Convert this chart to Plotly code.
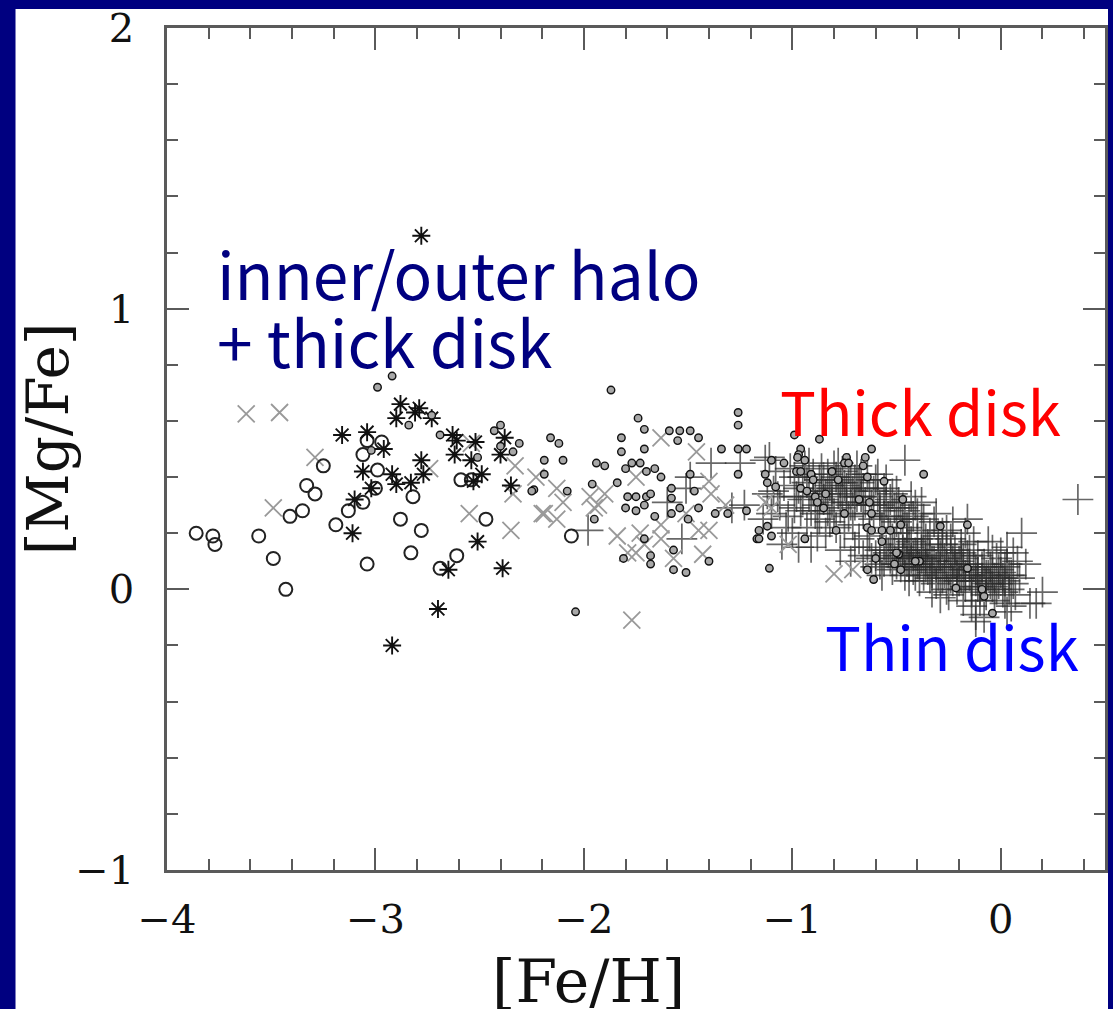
import plotly.graph_objects as go

# ---- [Fe/H], [Mg/Fe] measurements per sample -------------------------------
# halo stars, large open circles
halo_circles = [
    (-3.86, 0.20), (-3.78, 0.19), (-3.77, 0.16), (-3.56, 0.19), (-3.49, 0.11),
    (-3.43, 0.00), (-3.41, 0.26), (-3.35, 0.28), (-3.33, 0.37), (-3.29, 0.34),
    (-3.25, 0.44), (-3.19, 0.23), (-3.13, 0.28), (-3.06, 0.31), (-3.06, 0.48),
    (-3.04, 0.53), (-2.97, 0.525), (-2.99, 0.425), (-3.00, 0.36), (-3.04, 0.09),
    (-2.88, 0.25), (-2.83, 0.13), (-2.82, 0.33), (-2.78, 0.21), (-2.69, 0.075),
    (-2.61, 0.12), (-2.59, 0.39), (-2.47, 0.25), (-2.54, 0.39), (-2.06, 0.19),
]

# halo stars, asterisks
halo_asterisks = [
    (-3.16, 0.55), (-3.04, 0.56), (-3.06, 0.42), (-3.11, 0.20), (-3.10, 0.32),
    (-3.02, 0.36), (-2.96, 0.50), (-2.90, 0.61), (-2.88, 0.66), (-2.81, 0.63),
    (-2.79, 0.645), (-2.73, 0.61), (-2.92, 0.41), (-2.90, 0.375), (-2.83, 0.38),
    (-2.78, 0.46), (-2.77, 0.41), (-2.63, 0.55), (-2.61, 0.53), (-2.62, 0.48),
    (-2.54, 0.46), (-2.52, 0.525), (-2.53, 0.385), (-2.49, 0.41), (-2.51, 0.17),
    (-2.65, 0.07), (-2.70, -0.07), (-2.92, -0.20), (-2.39, 0.075), (-2.38, 0.54),
    (-2.40, 0.48), (-2.35, 0.37), (-2.78, 1.26),
]

# halo / thick disk, grey crosses
grey_crosses = [
    (-3.62, 0.625), (-3.46, 0.63), (-3.29, 0.47), (-3.49, 0.29), (-2.55, 0.27),
    (-2.35, 0.21), (-2.74, 0.43), (-2.33, 0.44), (-2.23, 0.40), (-2.34, 0.34),
    (-2.54, 0.52), (-2.20, 0.27), (-2.19, 0.27), (-2.13, 0.36), (-2.10, 0.31),
    (-2.13, 0.25), (-1.97, 0.33), (-1.93, 0.30), (-1.90, 0.34), (-1.95, 0.29),
    (-1.84, 0.19), (-1.75, 0.40), (-1.73, 0.20), (-1.75, 0.13), (-1.79, 0.13),
    (-1.71, 0.16), (-1.63, 0.54), (-1.46, 0.49), (-1.63, 0.23), (-1.63, 0.18),
    (-1.57, 0.11), (-1.51, 0.27), (-1.45, 0.21), (-1.40, 0.21), (-1.43, 0.125),
    (-1.40, 0.385), (-1.39, 0.34), (-1.32, 0.30), (-1.10, 0.29), (-1.77, -0.11),
    (-0.80, 0.055), (-0.71, 0.07), (-1.13, 0.31), (-1.02, 0.16),
]

# small dotted circles
small_circles = [
    (-2.92, 0.76), (-2.99, 0.72), (-2.73, 0.62), (-2.84, 0.585), (-2.69, 0.55),
    (-2.43, 0.565), (-2.40, 0.585), (-2.31, 0.52), (-2.40, 0.51), (-2.34, 0.49),
    (-2.24, 0.355), (-3.02, 0.495), (-2.51, 0.47),
    (-1.87, 0.71), (-1.74, 0.61), (-1.71, 0.57), (-2.16, 0.54), (-2.12, 0.52),
    (-2.19, 0.46), (-2.10, 0.46), (-2.19, 0.41), (-2.25, 0.35), (-2.08, 0.35),
    (-1.82, 0.54), (-1.82, 0.49), (-1.94, 0.45), (-1.90, 0.44), (-1.96, 0.375),
    (-1.84, 0.38), (-1.95, 0.25), (-1.71, 0.50), (-1.59, 0.565), (-1.54, 0.565),
    (-1.49, 0.565), (-1.45, 0.54), (-1.55, 0.53), (-1.80, 0.43), (-1.77, 0.45),
    (-1.73, 0.45), (-1.70, 0.42), (-1.66, 0.43), (-1.63, 0.40), (-1.79, 0.33),
    (-1.75, 0.33), (-1.70, 0.33), (-1.68, 0.34), (-1.80, 0.29), (-1.75, 0.28),
    (-1.71, 0.30), (-1.66, 0.26), (-1.58, 0.36), (-1.58, 0.325), (-1.58, 0.27),
    (-1.54, 0.29), (-1.50, 0.25), (-1.45, 0.29), (-1.49, 0.41), (-1.47, 0.35),
    (-1.71, 0.18), (-1.81, 0.11), (-1.68, 0.12), (-1.68, 0.09), (-1.57, 0.14),
    (-1.57, 0.07), (-1.51, 0.06), (-1.40, 0.10), (-1.34, 0.50), (-1.26, 0.63),
    (-1.26, 0.585), (-1.26, 0.50), (-1.22, 0.50), (-1.26, 0.41), (-1.37, 0.27),
    (-1.31, 0.27), (-1.22, 0.28), (-1.10, 0.46), (-1.13, 0.41), (-1.12, 0.38),
    (-1.12, 0.225), (-1.17, 0.18), (-1.10, 0.19), (-1.11, 0.075), (-2.04, -0.08),
    (-0.87, 0.535), (-0.99, 0.55), (-0.96, 0.50), (-0.97, 0.48), (-0.975, 0.47),
    (-0.94, 0.46), (-1.04, 0.45), (-0.98, 0.42), (-0.96, 0.42), (-0.91, 0.41),
    (-0.90, 0.39), (-0.74, 0.47), (-0.75, 0.45), (-0.73, 0.45), (-0.65, 0.47),
    (-0.62, 0.50), (-0.66, 0.44), (-0.64, 0.40), (-0.78, 0.39), (-0.81, 0.42),
    (-0.56, 0.385), (-0.37, 0.41), (-1.08, 0.365), (-0.96, 0.36), (-0.93, 0.35),
    (-0.89, 0.33), (-0.84, 0.34), (-0.88, 0.31), (-0.85, 0.29), (-0.75, 0.27),
    (-0.68, 0.32), (-0.63, 0.31), (-0.62, 0.27), (-0.47, 0.32), (-0.48, 0.23),
    (-0.64, 0.22), (-0.62, 0.21), (-0.57, 0.21), (-0.53, 0.21), (-0.57, 0.17),
    (-0.79, 0.21), (-0.94, 0.18), (-1.16, 0.21), (-1.16, 0.18), (-0.60, 0.11),
    (-0.51, 0.09), (-0.49, 0.125), (-0.39, 0.10), (-0.64, 0.07), (-0.61, 0.035),
    (-0.29, 0.225), (-0.16, 0.23), (-0.50, 0.13), (-0.48, 0.07), (-0.41, 0.10),
    (-0.16, 0.075), (-0.215, 0.005), (-0.09, 0.00), (-0.08, -0.025), (-0.04, -0.085),
]

# disk stars, plus signs
disk_plus = [
    (-1.98, 0.21), (-1.39, 0.45), (-1.49, 0.40), (-1.51, 0.36), (-1.60, 0.31),
    (-1.53, 0.18), (-1.25, 0.45), (-1.23, 0.30), (-1.29, 0.29), (-1.13, 0.46),
    (-1.12, 0.34), (-1.14, 0.25), (-1.09, 0.35), (-1.11, 0.47),
    (-1.08, 0.42), (-1.06, 0.30), (-1.04, 0.37), (-1.02, 0.26), (-1.00, 0.20),
    (-0.98, 0.33), (-1.05, 0.16), (-0.97, 0.15), (-1.03, 0.22), (-0.99, 0.40),
    (-0.96, 0.28), (-1.10, 0.27),
    (-0.94, 0.44), (-0.93, 0.38), (-0.92, 0.33), (-0.91, 0.28), (-0.90, 0.41),
    (-0.89, 0.36), (-0.88, 0.30), (-0.87, 0.25), (-0.86, 0.43), (-0.85, 0.39),
    (-0.84, 0.34), (-0.83, 0.28), (-0.82, 0.37), (-0.81, 0.31), (-0.80, 0.44),
    (-0.93, 0.22), (-0.88, 0.19), (-0.84, 0.20), (-0.91, 0.15), (-0.86, 0.35),
    (-0.82, 0.24),
    (-0.79, 0.40), (-0.78, 0.34), (-0.77, 0.29), (-0.76, 0.42), (-0.75, 0.37),
    (-0.74, 0.31), (-0.73, 0.26), (-0.72, 0.40), (-0.71, 0.35), (-0.70, 0.30),
    (-0.69, 0.44), (-0.68, 0.38), (-0.67, 0.33), (-0.66, 0.27), (-0.79, 0.22),
    (-0.75, 0.20), (-0.71, 0.23), (-0.68, 0.18), (-0.77, 0.14), (-0.72, 0.10),
    (-0.66, 0.12), (-0.70, 0.15),
    (-0.64, 0.41), (-0.63, 0.36), (-0.62, 0.30), (-0.61, 0.25), (-0.60, 0.39),
    (-0.59, 0.33), (-0.58, 0.28), (-0.57, 0.22), (-0.56, 0.36), (-0.55, 0.31),
    (-0.54, 0.26), (-0.53, 0.20), (-0.52, 0.34), (-0.51, 0.29), (-0.64, 0.15),
    (-0.62, 0.11), (-0.60, 0.08), (-0.58, 0.14), (-0.56, 0.10), (-0.54, 0.13),
    (-0.52, 0.07), (-0.51, 0.16), (-0.63, 0.19), (-0.57, 0.05),
    (-0.49, 0.31), (-0.48, 0.25), (-0.47, 0.20), (-0.46, 0.28), (-0.45, 0.22),
    (-0.44, 0.15), (-0.43, 0.11), (-0.42, 0.07), (-0.41, 0.13), (-0.40, 0.18),
    (-0.39, 0.09), (-0.38, 0.14), (-0.37, 0.05), (-0.36, 0.11), (-0.49, 0.12),
    (-0.48, 0.08), (-0.47, 0.14), (-0.46, 0.05), (-0.45, 0.10), (-0.44, 0.03),
    (-0.43, 0.17), (-0.42, 0.26), (-0.40, 0.12), (-0.39, 0.03), (-0.38, 0.21),
    (-0.36, 0.08), (-0.35, 0.16), (-0.41, 0.30), (-0.37, 0.25),
    (-0.34, 0.12), (-0.33, 0.06), (-0.32, 0.10), (-0.31, 0.02), (-0.30, 0.14),
    (-0.29, 0.08), (-0.28, 0.04), (-0.27, 0.11), (-0.26, 0.00), (-0.25, 0.07),
    (-0.24, 0.13), (-0.23, 0.03), (-0.22, 0.09), (-0.21, 0.05), (-0.34, 0.20),
    (-0.32, 0.24), (-0.30, 0.19), (-0.28, 0.16), (-0.26, 0.21), (-0.24, 0.18),
    (-0.22, 0.14), (-0.33, -0.01), (-0.29, -0.03), (-0.25, -0.02), (-0.21, 0.00),
    (-0.31, 0.27), (-0.23, 0.24),
    (-0.20, 0.10), (-0.19, 0.04), (-0.18, 0.07), (-0.17, 0.01), (-0.16, 0.12),
    (-0.15, 0.05), (-0.14, -0.01), (-0.13, 0.08), (-0.12, 0.03), (-0.11, 0.06),
    (-0.10, 0.00), (-0.09, 0.04), (-0.08, 0.09), (-0.07, 0.02), (-0.06, 0.05),
    (-0.19, 0.16), (-0.17, 0.20), (-0.15, 0.14), (-0.13, 0.17), (-0.11, 0.12),
    (-0.18, -0.04), (-0.14, -0.06), (-0.10, -0.04), (-0.07, -0.02), (-0.16, 0.25),
    (-0.12, -0.09), (-0.08, -0.10),
    (-0.05, 0.08), (-0.04, 0.01), (-0.03, 0.04), (-0.02, 0.11), (-0.01, 0.02),
    (0.00, 0.06), (0.01, -0.01), (0.02, 0.03), (0.03, 0.09), (0.04, 0.00),
    (0.05, 0.05), (0.06, 0.02), (0.07, -0.02), (-0.04, 0.14), (0.00, 0.13),
    (0.03, 0.15), (0.08, 0.10), (-0.03, -0.04), (0.02, -0.05), (0.05, -0.06),
    (0.06, 0.13),
    (0.10, 0.20), (0.12, 0.09), (0.14, -0.05), (0.17, -0.05), (0.20, -0.01),
    (0.37, 0.32), (-0.46, 0.46), (-0.12, -0.115), (0.09, 0.04), (-0.06, 0.17),
    (0.03, -0.08),
    # thick-disk band, dense part
    (-1.07, 0.33), (-1.01, 0.43), (-0.99, 0.29), (-0.97, 0.36), (-0.95, 0.32),
    (-0.95, 0.40), (-0.92, 0.45), (-0.90, 0.35), (-0.89, 0.27), (-0.87, 0.39),
    (-0.85, 0.32), (-0.83, 0.41), (-0.81, 0.36), (-0.80, 0.27), (-0.78, 0.45),
    (-0.77, 0.38), (-0.76, 0.33), (-0.74, 0.36), (-0.73, 0.43), (-0.72, 0.30),
    (-0.70, 0.39), (-0.69, 0.33), (-0.67, 0.41), (-0.66, 0.36), (-0.65, 0.31),
    (-0.63, 0.27), (-0.61, 0.35), (-0.59, 0.41), (-0.58, 0.30), (-0.56, 0.26),
    (-0.55, 0.39), (-0.53, 0.32), (-0.50, 0.35), (-0.50, 0.24), (-0.47, 0.29),
    (-0.44, 0.25), (-0.43, 0.33), (-0.40, 0.27), (-0.38, 0.31),
    # thin-disk core, dense part
    (-0.60, 0.12), (-0.58, 0.09), (-0.55, 0.14), (-0.53, 0.11), (-0.50, 0.09),
    (-0.49, 0.15), (-0.47, 0.11), (-0.46, 0.13), (-0.44, 0.08), (-0.42, 0.12),
    (-0.41, 0.05), (-0.40, 0.09), (-0.38, 0.11), (-0.37, 0.14), (-0.35, 0.07),
    (-0.34, 0.04), (-0.33, 0.10), (-0.31, 0.08), (-0.30, 0.05), (-0.29, 0.12),
    (-0.27, 0.06), (-0.26, 0.09), (-0.24, 0.04), (-0.23, 0.10), (-0.21, 0.08),
    (-0.20, 0.03), (-0.18, 0.11), (-0.17, 0.05), (-0.15, 0.09), (-0.14, 0.03),
    (-0.12, 0.07), (-0.11, 0.01), (-0.09, 0.08), (-0.07, 0.05), (-0.05, 0.02),
    (-0.04, 0.06), (-0.02, 0.00), (-0.01, 0.07), (0.01, 0.04), (0.02, 0.08),
    (0.04, 0.05), (-0.36, 0.18), (-0.28, 0.20), (-0.19, 0.13), (-0.26, 0.15),
    (-0.45, 0.18), (-0.52, 0.18),
]

# ---- figure ----------------------------------------------------------------
NAVY = "#000080"
AXIS_GREY = "#5a5a5a"


def split(pairs):
    return [p[0] for p in pairs], [p[1] for p in pairs]


fig = go.Figure()

# open symbols take their stroke colour from marker.color
x, y = split(disk_plus)
fig.add_trace(go.Scatter(
    x=x, y=y, mode="markers",
    marker=dict(symbol="cross-thin-open", size=22, color="rgba(45,45,45,0.72)",
                line=dict(width=1.7)),
))

x, y = split(grey_crosses)
fig.add_trace(go.Scatter(
    x=x, y=y, mode="markers",
    marker=dict(symbol="x-thin-open", size=17, color="#999999",
                line=dict(width=1.8)),
))

x, y = split(halo_circles)
fig.add_trace(go.Scatter(
    x=x, y=y, mode="markers",
    marker=dict(symbol="circle-open", size=13, color="#222",
                line=dict(width=2)),
))

x, y = split(halo_asterisks)
fig.add_trace(go.Scatter(
    x=x, y=y, mode="markers",
    marker=dict(symbol="asterisk-open", size=15, color="#111",
                line=dict(width=1.9)),
))

x, y = split(small_circles)
fig.add_trace(go.Scatter(
    x=x, y=y, mode="markers",
    marker=dict(symbol="circle", size=7.5, color="#a8a8a8",
                line=dict(color="#111", width=1.4)),
))

axis_common = dict(
    showline=True, linecolor=AXIS_GREY, linewidth=2.5, mirror="allticks",
    ticks="inside", ticklen=22, tickwidth=2, tickcolor=AXIS_GREY,
    showgrid=False, zeroline=False,
    tickfont=dict(family="DejaVu Serif", size=40, color="#111"),
    minor=dict(ticks="inside", ticklen=11, tickwidth=2, tickcolor=AXIS_GREY,
               dtick=0.2, showgrid=False),
)

fig.update_xaxes(range=[-4, 0.5], tick0=-4, dtick=1, ticklabelstandoff=12,
                 **axis_common)
fig.update_yaxes(range=[-1, 2], tick0=-1, dtick=1, ticklabelstandoff=22,
                 **axis_common)

label_font = "Noto Sans CJK JP"
fig.update_layout(
    width=1113, height=1009,
    margin=dict(l=167, r=5, t=24, b=139),
    paper_bgcolor=NAVY, plot_bgcolor="white",
    showlegend=False,
    shapes=[dict(type="rect", xref="paper", yref="paper",
                 x0=-0.1615, x1=1.0032, y0=-0.25, y1=1.0225,
                 fillcolor="white", line_width=0, layer="below")],
    annotations=[
        dict(text="[Fe/H]", xref="paper", yref="paper", x=0.4495, y=-0.132,
             showarrow=False, xanchor="center", yanchor="middle",
             font=dict(family="DejaVu Serif", size=60, color="#111")),
        dict(text="[Mg/Fe]", xref="paper", yref="paper", x=-0.1275, y=0.512,
             showarrow=False, xanchor="center", yanchor="middle", textangle=-90,
             font=dict(family="DejaVu Serif", size=58, color="#111")),
        dict(text="inner/outer halo", x=-3.77, y=1.13, xref="x", yref="y",
             showarrow=False, xanchor="left", yanchor="middle",
             font=dict(family=label_font, size=64, color=NAVY)),
        dict(text="+ thick disk", x=-3.77, y=0.89, xref="x", yref="y",
             showarrow=False, xanchor="left", yanchor="middle",
             font=dict(family=label_font, size=64, color=NAVY)),
        dict(text="Thick disk", x=-1.068, y=0.64, xref="x", yref="y",
             showarrow=False, xanchor="left", yanchor="middle",
             font=dict(family=label_font, size=60, color="#ff0000")),
        dict(text="Thin disk", x=-0.853, y=-0.198, xref="x", yref="y",
             showarrow=False, xanchor="left", yanchor="middle",
             font=dict(family=label_font, size=60, color="#0000ff")),
    ],
)

fig.write_html("out.html")
